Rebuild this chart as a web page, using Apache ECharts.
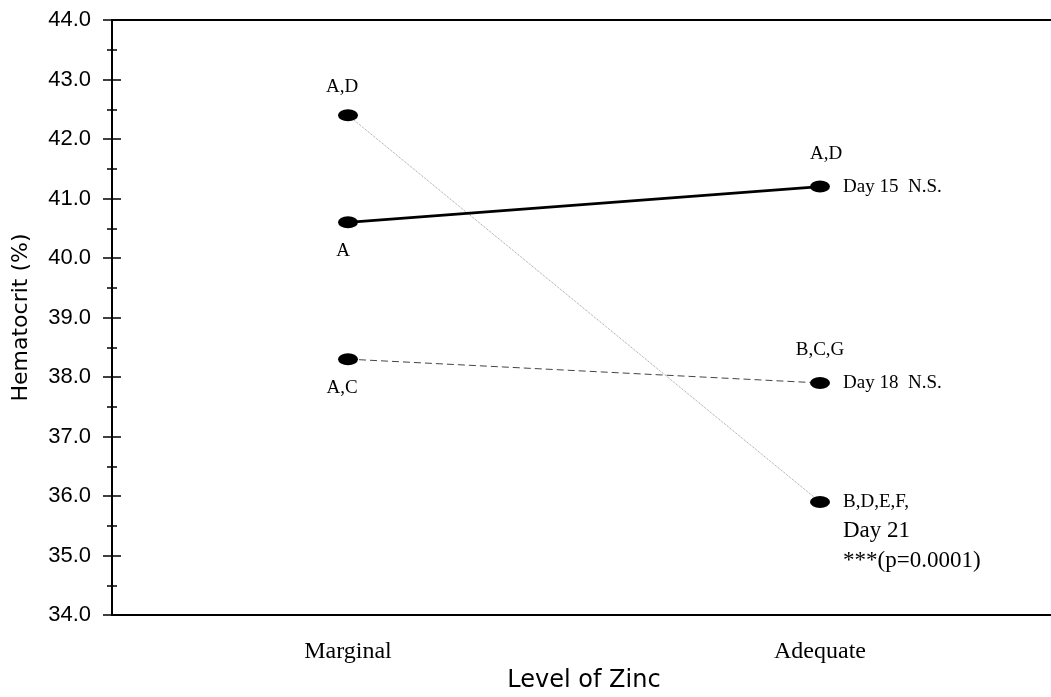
<!DOCTYPE html>
<html><head><meta charset="utf-8">
<script src="https://cdn.jsdelivr.net/npm/echarts@6/dist/echarts.min.js"></script>
<style>html,body{margin:0;padding:0;background:#fff}#c{width:1051px;height:697px}</style>
</head><body><div id="c"></div>
<script>
const categories = ['Marginal', 'Adequate'];
const day15 = [40.6, 41.2];
const day18 = [38.3, 37.9];
const day21 = [42.4, 35.9];
const day15Letters = ['A', 'A,D'];
const day18Letters = ['A,C', 'B,C,G'];
const day21Letters = ['A,D', 'B,D,E,F,'];
const seriesNames = ['Day 15  N.S.', 'Day 18  N.S.', 'Day 21', '***(p=0.0001)'];
const yTicks = [34, 35, 36, 37, 38, 39, 40, 41, 42, 43, 44];

const serif = 'Liberation Serif';
const sans = 'DejaVu Sans';
const txt = {fontFamily: serif, fontSize: 19, color: '#000'};

function letterData(vals, letters, positions, dist, offs) {
  return vals.map((v, i) => ({
    value: v,
    label: Object.assign({show: true, position: positions[i], distance: dist[i], offset: [offs[i], 0], formatter: letters[i]}, txt)
  }));
}

const chart = echarts.init(document.getElementById('c'));
const common = {min: yTicks[0], max: yTicks[yTicks.length - 1], interval: 1, splitLine: {show: false}};
chart.setOption({
  animation: false,
  grid: {left: 112, width: 944, top: 20, bottom: 82, containLabel: false, outerBoundsMode: 'none'},
  xAxis: [
    {type: 'category', data: categories, boundaryGap: true,
     axisLine: {lineStyle: {color: '#000', width: 2}},
     axisTick: {alignWithLabel: true, length: 10, lineStyle: {color: '#000', width: 1.5}},
     axisLabel: {fontFamily: serif, fontSize: 24, color: '#000', margin: 25},
     name: 'Level of Zinc', nameLocation: 'middle', nameGap: 52,
     nameTextStyle: {fontFamily: sans, fontSize: 24, color: '#000'}},
    {type: 'category', data: categories, boundaryGap: true, position: 'bottom',
     axisLine: {show: false},
     axisTick: {alignWithLabel: true, inside: true, length: 10, lineStyle: {color: '#000', width: 1.5}},
     axisLabel: {show: false}},
    {type: 'category', data: categories, position: 'top',
     axisLine: {lineStyle: {color: '#000', width: 2}}, axisTick: {show: false}, axisLabel: {show: false}}
  ],
  yAxis: [
    Object.assign({type: 'value',
     axisLine: {show: true, lineStyle: {color: '#000', width: 2}},
     axisTick: {show: true, length: 9, lineStyle: {color: '#000', width: 1.5}},
     minorTick: {show: true, splitNumber: 2, length: 5, lineStyle: {color: '#000', width: 1.5}},
     axisLabel: {formatter: v => v.toFixed(1), fontFamily: 'Liberation Sans', fontSize: 22, color: '#000', margin: 21},
     name: 'Hematocrit (%)', nameLocation: 'middle', nameGap: 80,
     nameTextStyle: {fontFamily: sans, fontSize: 22, color: '#000'}}, common),
    Object.assign({type: 'value', position: 'left',
     axisLine: {show: false},
     axisTick: {show: true, inside: true, length: 9, lineStyle: {color: '#000', width: 1.5}},
     minorTick: {show: true, splitNumber: 2, length: 5, lineStyle: {color: '#000', width: 1.5}},
     axisLabel: {show: false}}, common)
  ],
  series: [
    {name: 'Day 15', type: 'line', symbol: 'circle', symbolSize: [20, 12],
     itemStyle: {color: '#000'}, lineStyle: {color: '#000', width: 2.8},
     data: letterData(day15, day15Letters, ['bottom', 'top'], [13, 17], [-5, 6])},
    {name: 'Day 18', type: 'line', symbol: 'circle', symbolSize: [20, 12],
     itemStyle: {color: '#000'}, lineStyle: {color: '#444', width: 1, type: [7, 4]},
     data: letterData(day18, day18Letters, ['bottom', 'top'], [13, 17], [-6, 0])},
    {name: 'Day 21', type: 'line', symbol: 'circle', symbolSize: [20, 12], z: 1,
     itemStyle: {color: '#000'}, lineStyle: {color: '#999', width: 1, type: [1, 1]},
     data: letterData(day21, day21Letters, ['top', 'right'], [13, 13], [-6, 0])},
    {name: 'notes', type: 'scatter', symbolSize: 0, silent: true,
     itemStyle: {opacity: 1, color: '#000'},
     data: [
       {value: [1, day15[1]], label: Object.assign({show: true, position: 'right', distance: 23, formatter: seriesNames[0]}, txt)},
       {value: [1, day18[1]], label: Object.assign({show: true, position: 'right', distance: 23, formatter: seriesNames[1]}, txt)},
       {value: [1, day21[1]], label: Object.assign({show: true, position: [23, 14], formatter: '{a|' + seriesNames[2] + '}\n{b|' + seriesNames[3] + '}',
         rich: {a: {fontFamily: serif, fontSize: 23, color: '#000', lineHeight: 30}, b: {fontFamily: serif, fontSize: 23, color: '#000', lineHeight: 30}}}, txt)}
     ]}
  ]
});
</script></body></html>
